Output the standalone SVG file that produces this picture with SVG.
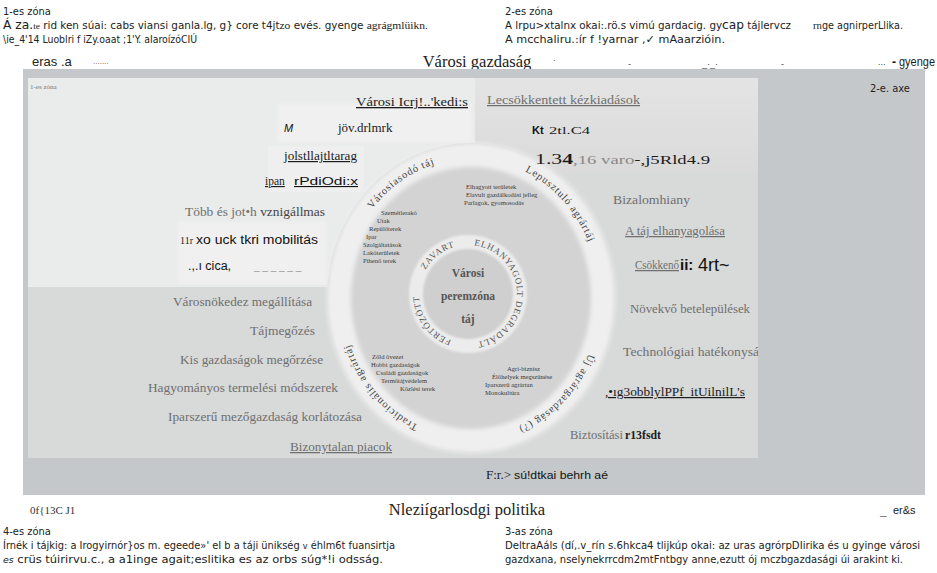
<svg xmlns="http://www.w3.org/2000/svg" width="937" height="573" viewBox="0 0 937 573">
<style>
.zt{font-family:"DejaVu Sans Condensed","DejaVu Sans",sans-serif;font-size:11px;fill:#222}
.ser{font-family:"Liberation Serif",serif}
.san{font-family:"Liberation Sans",sans-serif}
.gl{font-family:"Liberation Serif",serif;font-size:12.5px;fill:#6f6f6f}
.dk{font-family:"Liberation Serif",serif;fill:#1c1c1c}
.tiny{font-family:"Liberation Serif",serif;font-size:6.6px;fill:#3a3a3a}
.ring{font-family:"Liberation Serif",serif;font-size:10.5px;fill:#444;letter-spacing:1px}
.iring{font-family:"Liberation Serif",serif;font-size:9px;fill:#555;letter-spacing:1.2px}
.ul{text-decoration:underline}
</style>
<defs>
<filter id="soft" x="-10%" y="-10%" width="120%" height="120%"><feGaussianBlur stdDeviation="2.2"/></filter>
<filter id="soft2" x="-10%" y="-10%" width="120%" height="120%"><feGaussianBlur stdDeviation="1.3"/></filter>
<clipPath id="pclip"><rect x="28" y="78" width="730" height="380"/></clipPath>
<linearGradient id="trg" x1="0" y1="0" x2="0" y2="1"><stop offset="0" stop-color="#e4e4e4"/><stop offset="1" stop-color="#dadada"/></linearGradient>
<path id="orp" d="M 339,298 A 132,143 0 1 1 603,298 A 132,143 0 1 1 339,298"/>
<path id="irp" d="M 416,294 A 52,52 0 1 1 520,294 A 52,52 0 1 1 416,294"/>
</defs>

<!-- header -->
<g id="zone1-top">
<text class="zt" x="3" y="15">1-es zóna</text>
<text class="zt" x="3" y="29" textLength="425" lengthAdjust="spacingAndGlyphs"><tspan font-size="13">Á za.</tspan><tspan class="ser" font-size="9">te</tspan> rid ken súai: cabs viansi ganla.lg, g} core t4jt<tspan class="ser">zo</tspan> evés. gyenge <tspan class="ser">agrágmlüikn.</tspan></text>
<text class="zt" x="3" y="43" textLength="194" lengthAdjust="spacingAndGlyphs">\ie_4'14 Luoblri f iZy.oaat ;1'Y. aIaroízóCIÚ</text>
</g>
<g id="zone2-top">
<text class="zt" x="505" y="15">2-es zóna</text>
<text class="zt" x="505" y="29" textLength="286" lengthAdjust="spacingAndGlyphs">A lrpu&gt;xtalnx okai:.rö.s vimú gardacig. gy<tspan font-size="13">cap</tspan> tájlervcz</text>
<text class="zt" x="813" y="29" textLength="90" lengthAdjust="spacingAndGlyphs"><tspan class="ser">rn</tspan>ge agnirperLlika.</text>
<text class="zt" x="505" y="43" textLength="220" lengthAdjust="spacingAndGlyphs">A mcchaliru.:ír f !yarnar ,✓ mAaarzióin.</text>
</g>
<g id="axis-top">
<text class="san" x="32" y="66" font-size="13" fill="#222">eras .a</text>
<text class="san" x="93" y="64" font-size="8" fill="#555">.......</text>
<text class="ser" x="477" y="67" font-size="16.5" fill="#222" text-anchor="middle">Városi gazdaság</text>
<text class="san" x="553" y="63" font-size="9" fill="#555">·</text>
<text class="san" x="628" y="67" font-size="9" fill="#444">-</text>
<text class="san" x="702" y="67" font-size="9" fill="#444">_·_·</text>
<text class="san" x="781" y="67" font-size="9" fill="#444">-</text>
<text class="san" x="878" y="65" font-size="9" fill="#444">...</text>
<text class="san" x="892" y="66" font-size="12" fill="#111" font-weight="bold">-</text>
<text class="san" x="899" y="66" font-size="12" fill="#222" textLength="36" lengthAdjust="spacingAndGlyphs">gyenge</text>
</g>

<!-- frame and panel -->
<g id="frame">
<rect x="23" y="69" width="902" height="426" fill="#c5c8cb"/>
<rect x="28" y="78" width="730" height="380" fill="#d8d9d9"/>
<rect x="475" y="78" width="283" height="95" fill="url(#trg)"/>
<rect x="28" y="78" width="447" height="209" fill="#eaebeb"/>
<rect x="278" y="104" width="194" height="38" fill="#f0f0f0" filter="url(#soft2)"/>
<rect x="268" y="146" width="96" height="46" fill="#efefef" filter="url(#soft2)"/>
<rect x="178" y="222" width="148" height="62" fill="#f0f0f0" filter="url(#soft2)"/>
</g>

<!-- rings -->
<g id="outer-ring" clip-path="url(#pclip)">
<ellipse cx="471" cy="298" rx="144" ry="155" fill="#d3d3d3"/>
<ellipse cx="471" cy="298" rx="132" ry="143" fill="none" stroke="#efefef" stroke-width="24" filter="url(#soft)"/>
<text class="ring"><textPath href="#orp" startOffset="16%" text-anchor="middle" dominant-baseline="central">Városiasodó táj</textPath></text>
<text class="ring"><textPath href="#orp" startOffset="37.5%" text-anchor="middle" dominant-baseline="central">Lepusztuló agrártáj</textPath></text>
<text class="ring"><textPath href="#orp" startOffset="88%" text-anchor="middle" dominant-baseline="central">Tradicionális agrártáj</textPath></text>
<text class="ring"><textPath href="#orp" startOffset="63%" text-anchor="middle" dominant-baseline="central">Új agrárgazdaság (?)</textPath></text>
</g>
<g id="inner-ring">
<circle cx="468" cy="294" r="59" fill="#ececec" filter="url(#soft2)"/>
<circle cx="468" cy="294" r="45" fill="#cfcfcf" filter="url(#soft2)"/>
<text class="iring"><textPath href="#irp" startOffset="14.5%" text-anchor="middle" dominant-baseline="central">ZAVART</textPath></text>
<text class="iring"><textPath href="#irp" startOffset="27%" dominant-baseline="central">ELHANYAGOLT DEGRADÁLT</textPath></text>
<text class="iring"><textPath href="#irp" startOffset="90%" text-anchor="middle" dominant-baseline="central">FERTŐZÖTT</textPath></text>
<g font-family="Liberation Serif,serif" font-weight="bold" font-size="11.5" fill="#555" text-anchor="middle">
<text x="468" y="277">Városi</text>
<text x="468" y="300">peremzóna</text>
<text x="468" y="323">táj</text>
</g>
</g>

<!-- quadrant lists -->
<g id="q-upper-left" class="tiny">
<text x="381" y="215">Szemétlerakó</text>
<text x="377" y="223">Utak</text>
<text x="369" y="231">Repülőterek</text>
<text x="366" y="239">Ipar</text>
<text x="363" y="247">Szolgáltatások</text>
<text x="363" y="255">Lakóterületek</text>
<text x="363" y="263">Pihenő terek</text>
</g>
<g id="q-upper-right" class="tiny">
<text x="466" y="189">Elhagyott területek</text>
<text x="466" y="197">Elavult gazdálkodási jelleg</text>
<text x="464" y="205">Parlagok, gyomosodás</text>
</g>
<g id="q-lower-left" class="tiny">
<text x="372" y="359">Zöld övezet</text>
<text x="371" y="367">Hobbi gazdaságok</text>
<text x="376" y="375">Családi gazdaságok</text>
<text x="381" y="383">Termőtájvédelem</text>
<text x="400" y="391">Közlési terek</text>
</g>
<g id="q-lower-right" class="tiny">
<text x="507" y="371">Agri-biznisz</text>
<text x="492" y="379">Élőhelyek megszűnése</text>
<text x="485" y="387">Iparszerű agrártan</text>
<text x="485" y="395">Monokultúra</text>
</g>

<!-- left column labels -->
<g id="zone1-label"><text class="ser" x="30" y="89" font-size="7" fill="#777">1-es zóna</text></g>
<g id="left-labels">
<text class="dk ul" x="356" y="106" font-size="13" textLength="112" lengthAdjust="spacingAndGlyphs">Városi Icrj!..'kedi:s</text>
<text class="san" x="284" y="132" font-size="11" font-style="italic" fill="#111">M</text>
<text class="dk" x="338" y="132" font-size="13" fill="#333">jöv.drlmrk</text>
<text class="dk ul" x="284" y="160" font-size="12" textLength="73" lengthAdjust="spacingAndGlyphs">jolstllajtltarag</text>
<text class="dk ul" x="265" y="185" font-size="11.5">ipan</text>
<text class="san ul" x="294" y="185" font-size="11" fill="#111" textLength="64" lengthAdjust="spacingAndGlyphs">rPdiOdi:x</text>
<text class="gl" x="185" y="216" font-size="13" textLength="140" lengthAdjust="spacingAndGlyphs">Több és jot•h <tspan fill="#444">vznigállmas</tspan></text>
<text class="dk" x="180" y="244" font-size="10">11r</text>
<text class="san" x="196" y="244" font-size="12" fill="#111" textLength="122" lengthAdjust="spacingAndGlyphs">xo uck tkri mobilitás</text>
<text class="san" x="188" y="270" font-size="12.5" fill="#111">.,.ı cica,</text>
<text class="san" x="254" y="270" font-size="10" fill="#999">_ _ _ _ _ _</text>
<text class="gl" x="173" y="306" textLength="139" lengthAdjust="spacingAndGlyphs">Városnökedez megállítása</text>
<text class="gl" x="250" y="335" textLength="65" lengthAdjust="spacingAndGlyphs">Tájmegőzés</text>
<text class="gl" x="180" y="364" textLength="143" lengthAdjust="spacingAndGlyphs">Kis gazdaságok megőrzése</text>
<text class="gl" x="148" y="392" textLength="190" lengthAdjust="spacingAndGlyphs">Hagyományos termelési módszerek</text>
<text class="gl" x="168" y="421" textLength="194" lengthAdjust="spacingAndGlyphs">Iparszerű mezőgazdaság korlátozása</text>
<text class="gl ul" x="290" y="451" fill="#555" textLength="102" lengthAdjust="spacingAndGlyphs">Bizonytalan piacok</text>
</g>

<!-- right column labels -->
<g id="right-labels">
<text class="gl ul" x="487" y="104" textLength="153" lengthAdjust="spacingAndGlyphs">Lecsökkentett kézkiadások</text>
<text class="san" x="532" y="134" font-size="11" font-weight="bold" fill="#111">Kt</text>
<text class="dk" x="549" y="134" font-size="11" textLength="41" lengthAdjust="spacingAndGlyphs">2tl.C4</text>
<text class="dk" x="535" y="164" font-size="14" fill="#333" textLength="175" lengthAdjust="spacingAndGlyphs">1.3<tspan font-weight="bold">4</tspan><tspan font-size="12" fill="#888">,16 varo</tspan><tspan font-size="12">-,j5Rld4.9</tspan></text>
<text class="gl" x="613" y="204" textLength="77" lengthAdjust="spacingAndGlyphs">Bizalomhiany</text>
<text class="gl ul" x="625" y="235" textLength="100" lengthAdjust="spacingAndGlyphs">A táj elhanyagolása</text>
<text class="gl ul" x="635" y="269" font-size="11" textLength="44" lengthAdjust="spacingAndGlyphs">Csökkenő</text>
<text class="san" x="680" y="270" font-size="15" font-weight="bold" fill="#111">ii:</text>
<text class="san" x="698" y="271" font-size="18" fill="#111">4rt~</text>
<text class="gl" x="630" y="313" textLength="120" lengthAdjust="spacingAndGlyphs">Növekvő betelepülések</text>
<g clip-path="url(#pclip)"><text class="gl" x="623" y="356" textLength="143" lengthAdjust="spacingAndGlyphs">Technológiai hatékonyság</text></g>
<text class="dk ul" x="605" y="396" font-size="12" fill="#333" textLength="140" lengthAdjust="spacingAndGlyphs">,•ıg3obblylPPf_itUilnilL's</text>
<text class="gl" x="570" y="439" textLength="53" lengthAdjust="spacingAndGlyphs">Biztosítási</text>
<text class="dk" x="625" y="439" font-size="12" font-weight="bold" textLength="36" lengthAdjust="spacingAndGlyphs">r13fsdt</text>
<text class="dk" x="486" y="479" font-size="13" fill="#333">F:r.&gt;</text>
<text class="san" x="514" y="479" font-size="11" fill="#111" textLength="94" lengthAdjust="spacingAndGlyphs">sú!dtkai behrh aé</text>
<text class="zt" x="870" y="92">2-e. axe</text>
</g>

<!-- bottom -->
<g id="axis-bottom">
<text class="ser" x="30" y="514" font-size="11" fill="#333">0f{13C J1</text>
<text class="ser" x="467" y="515" font-size="16.5" fill="#222" text-anchor="middle">Nleziígarlosdgi politika</text>
<text class="san" x="880" y="515" font-size="12" font-weight="bold" fill="#111">_</text>
<text class="san" x="893" y="514" font-size="11" fill="#222">er&amp;s</text>
</g>
<g id="zone4-bottom">
<text class="zt" x="3" y="535">4-es zóna</text>
<text class="zt" x="3" y="549" textLength="392" lengthAdjust="spacingAndGlyphs">Írnék i tájkig: a Irogyirnór}os m. egeede»' eI b a táji ünikség <tspan font-size="9">v</tspan> éhlm6t fuansirtja</text>
<text class="zt" x="3" y="563" textLength="380" lengthAdjust="spacingAndGlyphs"><tspan font-style="italic" font-size="9">es</tspan> crüs túirirvu.c., a a1inge agait;eslitika es az orbs súg*!i odsság.</text>
</g>
<g id="zone3-bottom">
<text class="zt" x="505" y="535">3-as zóna</text>
<text class="zt" x="505" y="549" textLength="415" lengthAdjust="spacingAndGlyphs">DeltraAáls (dí,.v_rín s.6hkca4 tlijkúp okai: az uras agrórpDIirika és u gyinge városi</text>
<text class="zt" x="505" y="563" textLength="398" lengthAdjust="spacingAndGlyphs">gazdxana, nselynekrrcdm2mtFntbgy anne,ezutt ój mczbgazdasági úi arakint ki.</text>
</g>
</svg>
